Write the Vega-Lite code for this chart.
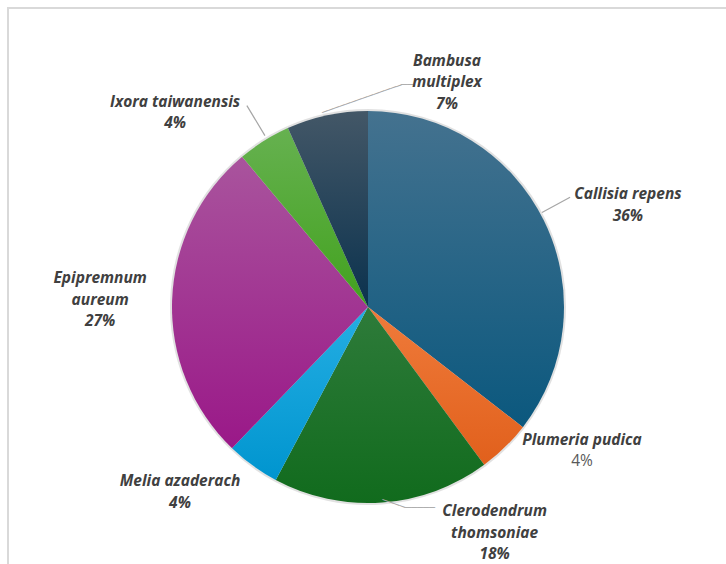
{
  "$schema": "https://vega.github.io/schema/vega-lite/v6.json",
  "width": 720,
  "height": 598,
  "autosize": "none",
  "padding": {"left": 8, "top": 8, "right": -2, "bottom": -42},
  "view": {"stroke": "#d9d9d9", "strokeWidth": 2, "strokeDash": [720, 1318, 598]},
  "config": {
    "view": {"stroke": "#d9d9d9", "strokeWidth": 2, "strokeDash": [720, 1318, 598]},
    "text": {"font": "Open Sans", "fontSize": 15.5, "fontWeight": "bold", "fontStyle": "italic", "color": "#404040", "lineHeight": 21.5, "align": "center", "baseline": "middle"}
  },
  "data": {
    "values": [
      {"order": 1, "species": "Callisia repens", "value": 35.5, "name": ["Callisia repens"], "pct": "36%", "label": ["Callisia repens", "36%"]},
      {"order": 2, "species": "Plumeria pudica", "value": 4.4, "name": ["Plumeria pudica"], "pct": "4%", "label": ["Plumeria pudica", "4%"]},
      {"order": 3, "species": "Clerodendrum thomsoniae", "value": 17.9, "name": ["Clerodendrum", "thomsoniae"], "pct": "18%", "label": ["Clerodendrum", "thomsoniae", "18%"]},
      {"order": 4, "species": "Melia azaderach", "value": 4.4, "name": ["Melia azaderach"], "pct": "4%", "label": ["Melia azaderach", "4%"]},
      {"order": 5, "species": "Epipremnum aureum", "value": 26.7, "name": ["Epipremnum", "aureum"], "pct": "27%", "label": ["Epipremnum", "aureum", "27%"]},
      {"order": 6, "species": "Ixora taiwanensis", "value": 4.4, "name": ["Ixora taiwanensis"], "pct": "4%", "label": ["Ixora taiwanensis", "4%"]},
      {"order": 7, "species": "Bambusa multiplex", "value": 6.7, "name": ["Bambusa", "multiplex"], "pct": "7%", "label": ["Bambusa", "multiplex", "7%"]}
    ]
  },
  "encoding": {
    "theta": {"field": "value", "type": "quantitative", "stack": true},
    "order": {"field": "order", "type": "quantitative"}
  },
  "layer": [
    {
      "mark": {"type": "arc", "radius": 198, "stroke": null, "fill": "#bdbdbd", "opacity": 0.45},
      "encoding": {}
    },
    {
      "mark": {"type": "arc", "radius": 196, "stroke": null},
      "encoding": {
        "color": {
          "condition": [
            {"test": "datum.species === 'Callisia repens'", "value": {"gradient": "linear", "x1": 0, "y1": 0, "x2": 0, "y2": 1, "stops": [{"offset": 0, "color": "#44728f"}, {"offset": 1, "color": "#0b587e"}]}},
            {"test": "datum.species === 'Plumeria pudica'", "value": {"gradient": "linear", "x1": 0, "y1": 0, "x2": 0, "y2": 1, "stops": [{"offset": 0, "color": "#ef7b3b"}, {"offset": 1, "color": "#e1601c"}]}},
            {"test": "datum.species === 'Clerodendrum thomsoniae'", "value": {"gradient": "linear", "x1": 0, "y1": 0, "x2": 0, "y2": 1, "stops": [{"offset": 0, "color": "#2e7b3a"}, {"offset": 1, "color": "#116b1d"}]}},
            {"test": "datum.species === 'Melia azaderach'", "value": {"gradient": "linear", "x1": 0, "y1": 0, "x2": 0, "y2": 1, "stops": [{"offset": 0, "color": "#25aee3"}, {"offset": 1, "color": "#0095cf"}]}},
            {"test": "datum.species === 'Epipremnum aureum'", "value": {"gradient": "linear", "x1": 0, "y1": 0, "x2": 0, "y2": 1, "stops": [{"offset": 0, "color": "#a9549d"}, {"offset": 1, "color": "#9a1888"}]}},
            {"test": "datum.species === 'Ixora taiwanensis'", "value": {"gradient": "linear", "x1": 0, "y1": 0, "x2": 0, "y2": 1, "stops": [{"offset": 0, "color": "#66b150"}, {"offset": 1, "color": "#42a21e"}]}},
            {"test": "datum.species === 'Bambusa multiplex'", "value": {"gradient": "linear", "x1": 0, "y1": 0, "x2": 0, "y2": 1, "stops": [{"offset": 0, "color": "#435767"}, {"offset": 1, "color": "#0b324e"}]}}
          ],
          "value": "#999999"
        }
      }
    },
    {
      "transform": [{"stack": "value", "groupby": [], "sort": [{"field": "order", "order": "ascending"}], "as": ["v0", "v1"]}],
      "mark": {"type": "arc", "radius": 230, "radius2": 198, "thetaOffset": 1.073, "theta2Offset": 1.073, "fill": null, "stroke": "#a6a6a6", "strokeWidth": 1.2},
      "encoding": {
        "theta": {"field": "v0", "type": "quantitative", "stack": null},
        "theta2": {"field": "v0"},
        "strokeOpacity": {"condition": {"test": "datum.species === 'Callisia repens'", "value": 1}, "value": 0}
      }
    },
    {
      "transform": [{"stack": "value", "groupby": [], "sort": [{"field": "order", "order": "ascending"}], "as": ["v0", "v1"]}],
      "mark": {"type": "arc", "radius": 235, "radius2": 200, "thetaOffset": 0.156, "theta2Offset": 0.156, "fill": null, "stroke": "#a6a6a6", "strokeWidth": 1.2},
      "encoding": {
        "theta": {"field": "v0", "type": "quantitative", "stack": null},
        "theta2": {"field": "v0"},
        "strokeOpacity": {"condition": {"test": "datum.species === 'Ixora taiwanensis'", "value": 1}, "value": 0}
      }
    },
    {
      "mark": {"type": "text", "radius": 208.1, "thetaOffset": 0.1818, "angle": -19.3, "font": "DejaVu Sans Mono", "fontSize": 10, "fontWeight": "normal", "fontStyle": "normal", "color": "#a6a6a6"},
      "encoding": {"text": {"condition": {"test": "datum.species === 'Bambusa multiplex'", "value": "──────────────"}, "value": ""}}
    },
    {
      "mark": {"type": "text", "radius": 225.4, "thetaOffset": 0.3845, "font": "DejaVu Sans Mono", "fontSize": 10, "fontWeight": "normal", "fontStyle": "normal", "color": "#a6a6a6"},
      "encoding": {"text": {"condition": {"test": "datum.species === 'Bambusa multiplex'", "value": "──"}, "value": ""}}
    },
    {
      "mark": {"type": "text", "radius": 198.6, "thetaOffset": -0.0569, "angle": 19.2, "font": "DejaVu Sans Mono", "fontSize": 10, "fontWeight": "normal", "fontStyle": "normal", "color": "#a6a6a6"},
      "encoding": {"text": {"condition": {"test": "datum.species === 'Clerodendrum thomsoniae'", "value": "────"}, "value": ""}}
    },
    {
      "mark": {"type": "text", "radius": 207.6, "thetaOffset": -0.1808, "font": "DejaVu Sans Mono", "fontSize": 10, "fontWeight": "normal", "fontStyle": "normal", "color": "#a6a6a6"},
      "encoding": {"text": {"condition": {"test": "datum.species === 'Clerodendrum thomsoniae'", "value": "─────"}, "value": ""}}
    },
    {
      "mark": {"type": "text", "radius": 280, "thetaOffset": 0.075, "dy": -8.75},
      "encoding": {"text": {"condition": {"test": "datum.species === 'Callisia repens'", "field": "label"}, "value": ""}}
    },
    {
      "mark": {"type": "text", "radius": 257, "thetaOffset": -0.211, "dy": -9.75},
      "encoding": {"text": {"condition": {"test": "datum.species === 'Plumeria pudica'", "field": "name"}, "value": ""}}
    },
    {
      "mark": {"type": "text", "radius": 257, "thetaOffset": -0.211, "dy": 11.75, "fontWeight": "normal", "fontStyle": "normal", "color": "#595959"},
      "encoding": {"text": {"condition": {"test": "datum.species === 'Plumeria pudica'", "field": "pct"}, "value": ""}}
    },
    {
      "mark": {"type": "text", "radius": 257, "thetaOffset": -0.443, "dy": -19.5},
      "encoding": {"text": {"condition": {"test": "datum.species === 'Clerodendrum thomsoniae'", "field": "label"}, "value": ""}}
    },
    {
      "mark": {"type": "text", "radius": 263, "thetaOffset": 0.168, "dy": -9.75},
      "encoding": {"text": {"condition": {"test": "datum.species === 'Melia azaderach'", "field": "label"}, "value": ""}}
    },
    {
      "mark": {"type": "text", "radius": 268, "thetaOffset": 0, "dy": -19.5},
      "encoding": {"text": {"condition": {"test": "datum.species === 'Epipremnum aureum'", "field": "label"}, "value": ""}}
    },
    {
      "mark": {"type": "text", "radius": 274, "thetaOffset": -0.222, "dy": -10.75},
      "encoding": {"text": {"condition": {"test": "datum.species === 'Ixora taiwanensis'", "field": "label"}, "value": ""}}
    },
    {
      "mark": {"type": "text", "radius": 240, "thetaOffset": 0.546, "dy": -19.5},
      "encoding": {"text": {"condition": {"test": "datum.species === 'Bambusa multiplex'", "field": "label"}, "value": ""}}
    }
  ]
}
